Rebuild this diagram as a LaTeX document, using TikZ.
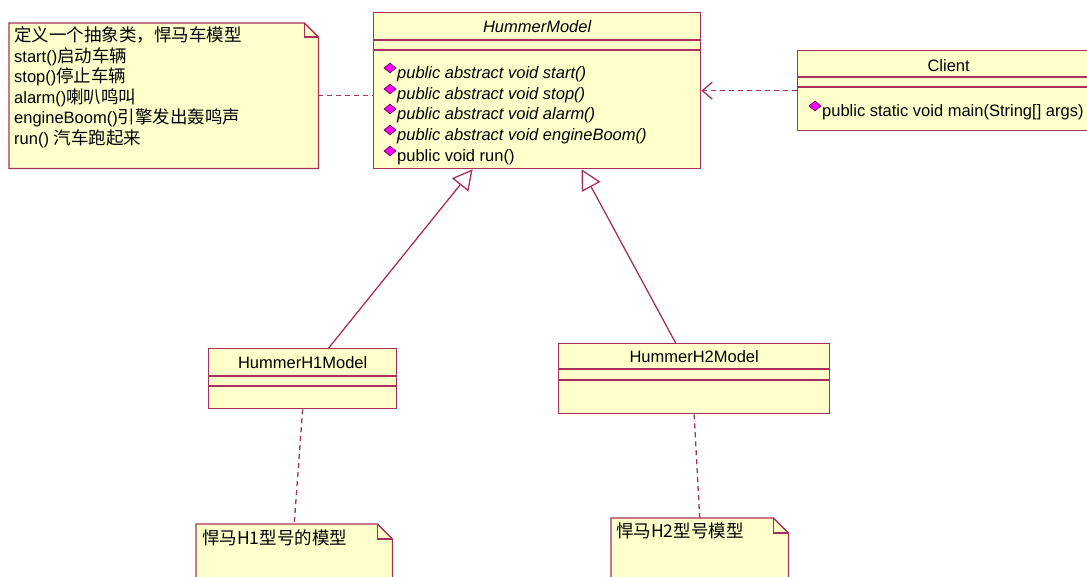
\documentclass[tikz,border=0pt]{standalone}
\usepackage{fontspec}
\setmainfont{Liberation Sans}
\newfontfamily\cjk[Scale=1.06]{Noto Sans CJK SC}
\usetikzlibrary{arrows.meta,shapes.geometric}
\definecolor{umlline}{HTML}{A8305C}
\definecolor{umlfill}{HTML}{FFFFCC}
\definecolor{methfill}{HTML}{FF00FF}
\definecolor{methedge}{HTML}{600060}
\newcommand{\umlsize}{\fontsize{16.5}{20}\selectfont}
\newcommand{\notefold}[2]{%
  \draw[noteline] (#1.north west) -- ([xshift=-#2]#1.north east) -- ([yshift=-#2]#1.north east)
    -- (#1.south east) -- (#1.south west) -- cycle;
  \draw[noteline, fill=none] ([xshift=-#2]#1.north east) |- ([yshift=-#2]#1.north east);
}
\tikzset{
  classbox/.style = {draw=umlline, fill=umlfill, line width=1.3pt, inner sep=0pt, anchor=north west},
  sepline/.style = {draw=umlline, line width=1.3pt},
  classtitle/.style = {font=\umlsize, inner sep=0pt},
  methtext/.style = {font=\umlsize, inner sep=0pt, anchor=west, text height=15pt, text depth=2pt},
  methmark/.style = {diamond, fill=methfill, draw=methedge, line width=0.7pt,
    minimum width=12pt, minimum height=10pt, inner sep=0pt},
  notearea/.style = {inner sep=0pt, anchor=north west},
  noteline/.style = {draw=umlline, fill=umlfill, line width=1.3pt},
  notetext/.style = {font=\umlsize, inner sep=0pt, anchor=west, text height=15pt, text depth=2pt},
  notelink/.style = {draw=umlline, line width=1.3pt, dash pattern=on 5pt off 4pt},
  depend/.style = {notelink, -{Straight Barb[length=10pt, width=17pt]}},
  inherit/.style = {draw=umlline, line width=1.3pt, -{Triangle[length=20pt, width=21pt, fill=white]}}
}
\begin{document}
\begin{tikzpicture}[x=1pt, y=-1pt]
  \clip (0,0) rectangle (1087,576);

  % abstract class
  \node[classbox, minimum width=327pt, minimum height=156pt] (hm) at (373,12) {};
  \draw[sepline] ([yshift=-28pt]hm.north west) -- ([yshift=-28pt]hm.north east);
  \draw[sepline] ([yshift=-38pt]hm.north west) -- ([yshift=-38pt]hm.north east);
  \node[classtitle] (hm-title) at ([yshift=-15pt]hm.north) {\itshape HummerModel};
  \foreach \ypos/\meth [count=\i] in {72/{\itshape public abstract void start()},
      93/{\itshape public abstract void stop()}, 113/{\itshape public abstract void alarm()},
      134/{\itshape public abstract void engineBoom()}, 155/{public void run()}} {
    \node[methmark] (hm-d\i) at (390,\ypos-4) {};
    \node[methtext] (hm-m\i) at (397,\ypos) {\meth};
  }

  % client
  \node[classbox, minimum width=302pt, minimum height=80pt] (client) at (797,50) {};
  \draw[sepline] ([yshift=-27pt]client.north west) -- ([yshift=-27pt]client.north east);
  \draw[sepline] ([yshift=-37pt]client.north west) -- ([yshift=-37pt]client.north east);
  \node[classtitle] (client-title) at ([yshift=-16pt]client.north) {Client};
  \node[methmark] (client-d1) at (815,106) {};
  \node[methtext] (client-m1) at (822,110) {public static void main(String[] args)};

  % subclasses
  \node[classbox, minimum width=188pt, minimum height=60pt] (h1) at (208,348) {};
  \draw[sepline] ([yshift=-28pt]h1.north west) -- ([yshift=-28pt]h1.north east);
  \draw[sepline] ([yshift=-38pt]h1.north west) -- ([yshift=-38pt]h1.north east);
  \node[classtitle] (h1-title) at ([yshift=-15pt]h1.north) {HummerH1Model};

  \node[classbox, minimum width=271pt, minimum height=70pt] (h2) at (558,343) {};
  \draw[sepline] ([yshift=-26pt]h2.north west) -- ([yshift=-26pt]h2.north east);
  \draw[sepline] ([yshift=-37pt]h2.north west) -- ([yshift=-37pt]h2.north east);
  \node[classtitle] (h2-title) at ([yshift=-14pt]h2.north) {HummerH2Model};

  % notes
  \node[notearea, minimum width=309pt, minimum height=145pt] (note1) at (9,23) {};
  \notefold{note1}{14pt}
  \foreach \txt [count=\i] in {\cjk 定义一个抽象类，悍马车模型, start()\cjk 启动车辆,
      stop()\cjk 停止车辆, alarm()\cjk 喇叭鸣叫, engineBoom()\cjk 引擎发出轰鸣声,
      run() \cjk 汽车跑起来} {
    \node[notetext] (note1-l\i) at (14,{14.4+20.6*\i}) {\txt};
  }

  \node[notearea, minimum width=196pt, minimum height=70pt] (n1) at (196,524) {};
  \notefold{n1}{15pt}
  \node[notetext] (n1-l1) at (202,538) {\cjk 悍马H1型号的模型};

  \node[notearea, minimum width=177pt, minimum height=76pt] (n2) at (611,518) {};
  \notefold{n2}{15pt}
  \node[notetext] (n2-l1) at (616,531) {\cjk 悍马H2型号模型};

  % connectors
  \draw[notelink] (note1.east) -- (note1.east -| hm.west);
  \draw[depend] (client.west) -- (client.west -| hm.east);
  \draw[inherit] ([xshift=26pt]h1.north) -- ([xshift=-64.5pt]hm.south);
  \draw[inherit] ([xshift=-18.5pt]h2.north) -- ([xshift=44.5pt]hm.south);
  \draw[notelink] (h1.south) -- (n1.north);
  \draw[notelink] (h2.south) -- (n2.north);
\end{tikzpicture}
\end{document}
